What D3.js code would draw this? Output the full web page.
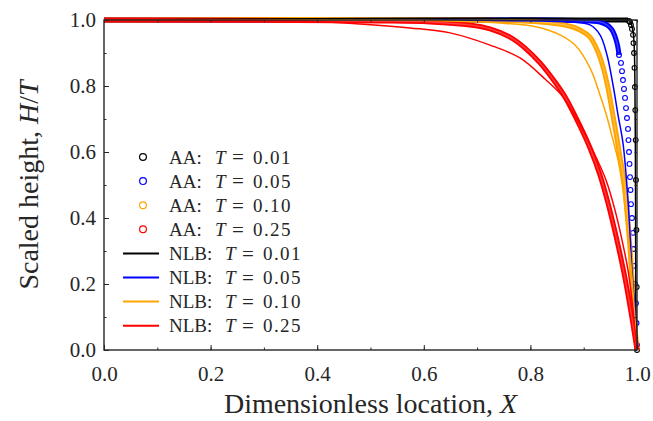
<!DOCTYPE html>
<html>
<head>
<meta charset="utf-8">
<script src="https://cdn.jsdelivr.net/npm/d3@7"></script>
<style>
  body { margin: 0; background: #fff; }
  text { font-family: "Liberation Serif", "DejaVu Serif", serif; fill: #262626; }
</style>
</head>
<body>
<div id="chart"></div>
<script>
// ---- data ----
const tLabels = ["0.01", "0.05", "0.10", "0.25"];
const xTicks = [0, 0.2, 0.4, 0.6, 0.8, 1.0];
const yTicks = [0, 0.2, 0.4, 0.6, 0.8, 1.0];

// AA (markers): part where the rings overlap into a chain
const aa01X = [0, 0.9831];
const aa01Y = [1, 1];
const aa05X = [0, 0.8180, 0.9118, 0.9306, 0.9437, 0.9531, 0.9625, 0.9662];
const aa05Y = [1, 1, 0.997, 0.994, 0.985, 0.970, 0.930, 0.894];
const aa10X = [0, 0.7054, 0.8180, 0.8649, 0.8930, 0.9118, 0.9268, 0.9362, 0.9456, 0.9531, 0.9606, 0.9681, 0.9756, 0.9812, 0.9869, 0.9906, 0.9944, 0.9981, 1.0];
const aa10Y = [1, 1, 0.994, 0.985, 0.970, 0.948, 0.903, 0.858, 0.794, 0.727, 0.658, 0.585, 0.515, 0.418, 0.309, 0.212, 0.115, 0.036, 0];
const aa25X = [0, 0.5178, 0.6116, 0.6867, 0.7242, 0.7617, 0.7899, 0.8180, 0.8462, 0.8649, 0.8930, 0.9118, 0.9306, 0.9456, 0.9606, 0.9756, 0.9887, 1.0];
const aa25Y = [1, 0.997, 0.994, 0.985, 0.973, 0.948, 0.915, 0.870, 0.812, 0.767, 0.679, 0.612, 0.530, 0.445, 0.345, 0.233, 0.115, 0];

// AA (markers): steep part where single rings are visible
const aa01RingX = [0.9850, 0.9869, 0.9887, 0.9906, 0.9925, 0.9934, 0.9944, 0.9953, 0.9962, 0.9968, 0.9976, 0.9981, 0.9989, 0.9994, 1.0];
const aa01RingY = [0.997, 0.994, 0.985, 0.973, 0.955, 0.930, 0.900, 0.855, 0.797, 0.727, 0.636, 0.515, 0.364, 0.191, 0];
const aa05RingX = [0.9662, 0.9700, 0.9719, 0.9737, 0.9756, 0.9775, 0.9794, 0.9812, 0.9831, 0.9840, 0.9850, 0.9859, 0.9869, 0.9878, 0.9887, 0.9906, 0.9925, 0.9934, 0.9944, 0.9962, 0.9981, 0.9991, 1.0];
const aa05RingY = [0.894, 0.870, 0.845, 0.818, 0.791, 0.764, 0.733, 0.703, 0.670, 0.636, 0.600, 0.564, 0.524, 0.485, 0.442, 0.400, 0.355, 0.306, 0.255, 0.200, 0.142, 0.082, 0.015];

// NLB (lines)
const nlb01X = [0, 0.978, 0.986, 0.990, 0.993, 0.995, 0.996, 0.997, 0.9975, 0.998, 1.0];
const nlb01Y = [1, 1, 0.997, 0.985, 0.96, 0.91, 0.82, 0.6, 0.3, 0.1, 0];
const nlb05X = [0, 0.6492, 0.8180, 0.8743, 0.9118, 0.9306, 0.9437, 0.9550, 0.9644, 0.9737, 0.9831, 0.9906, 0.9962, 1.0];
const nlb05Y = [1, 1, 0.997, 0.994, 0.985, 0.955, 0.894, 0.803, 0.712, 0.627, 0.455, 0.242, 0.121, 0];
const nlb10X = [0, 0.5553, 0.6492, 0.7430, 0.8124, 0.8555, 0.8837, 0.9118, 0.9306, 0.9437, 0.9550, 0.9644, 0.9737, 0.9812, 0.9887, 0.9944, 0.9981, 1.0];
const nlb10Y = [1, 1, 0.997, 0.991, 0.979, 0.955, 0.924, 0.855, 0.773, 0.706, 0.636, 0.576, 0.485, 0.379, 0.258, 0.136, 0.045, 0];
const nlb25X = [0, 0.3677, 0.4803, 0.5741, 0.6492, 0.7242, 0.7805, 0.8274, 0.8612, 0.8930, 0.9212, 0.9418, 0.9587, 0.9719, 0.9831, 0.9906, 0.9962, 1.0];
const nlb25Y = [1, 0.997, 0.988, 0.976, 0.961, 0.924, 0.885, 0.821, 0.767, 0.682, 0.591, 0.515, 0.424, 0.333, 0.242, 0.152, 0.061, 0];

// ---- styles ----
const colors = ["#000000", "#0000ff", "#ffa500", "#ff0000"];

const zip = (xs, ys) => xs.map((d, i) => [d, ys[i]]);
const aaChains = [zip(aa01X, aa01Y), zip(aa05X, aa05Y), zip(aa10X, aa10Y), zip(aa25X, aa25Y)];
const aaRings = [zip(aa01RingX, aa01RingY), zip(aa05RingX, aa05RingY), [], []];
const nlbLines = [zip(nlb01X, nlb01Y), zip(nlb05X, nlb05Y), zip(nlb10X, nlb10Y), zip(nlb25X, nlb25Y)];

const margin = {top: 20, right: 16, bottom: 71, left: 104},
      width = 653 - margin.left - margin.right,
      height = 421 - margin.top - margin.bottom;

const svg = d3.select("#chart")
    .append("svg")
    .attr("width", 653)
    .attr("height", 421)
    .append("g")
    .attr("transform", `translate(${margin.left},${margin.top})`);

const x = d3.scaleLinear().domain([0, 1]).range([0, width]);
const y = d3.scaleLinear().domain([0, 1]).range([height, 0]);

const line = d3.line()
    .x(d => x(d[0]))
    .y(d => y(d[1]))
    .curve(d3.curveCatmullRom.alpha(0.5));

// AA markers
aaChains.forEach((pts, i) => {
    svg.append("path")
        .attr("d", line(pts))
        .attr("fill", "none")
        .attr("stroke", colors[i])
        .attr("stroke-width", 5)
        .attr("stroke-linecap", "butt");
    svg.append("path")
        .attr("d", line(pts))
        .attr("fill", "none")
        .attr("stroke", "#fff")
        .attr("stroke-opacity", 0.25)
        .attr("stroke-width", 1.3);
    svg.selectAll(null)
        .data(aaRings[i])
        .join("circle")
        .attr("cx", d => x(d[0]))
        .attr("cy", d => y(d[1]))
        .attr("r", 2.4)
        .attr("fill", "none")
        .attr("stroke", colors[i])
        .attr("stroke-width", 1.1);
});

// NLB lines
nlbLines.forEach((pts, i) => {
    svg.append("path")
        .attr("d", line(pts))
        .attr("fill", "none")
        .attr("stroke", colors[i])
        .attr("stroke-width", 1.5);
});

// frame + inward ticks on all sides
const fmt = d3.format(".1f");
const minor = d3.range(0, 1.0001, 0.1);

function styleAxis(g) {
    g.select(".domain").remove();
    g.selectAll(".tick line").attr("stroke", "#262626").attr("stroke-width", 1);
    g.selectAll("text").style("font-size", "21px").attr("fill", "#262626");
}

svg.append("g").attr("transform", `translate(0,${height})`)
    .call(d3.axisBottom(x).tickValues(minor).tickSize(-2.5).tickFormat(""))
    .call(styleAxis);
svg.append("g").attr("transform", `translate(0,${height})`)
    .call(d3.axisBottom(x).tickValues(xTicks).tickSize(-5).tickPadding(16).tickFormat(fmt))
    .call(styleAxis);
svg.append("g")
    .call(d3.axisLeft(y).tickValues(minor).tickSize(-2.5).tickFormat(""))
    .call(styleAxis);
svg.append("g")
    .call(d3.axisLeft(y).tickValues(yTicks).tickSize(-5).tickPadding(8).tickFormat(fmt))
    .call(styleAxis);
svg.append("g")
    .call(d3.axisTop(x).tickValues(minor).tickSize(-2.5).tickFormat(""))
    .call(styleAxis);
svg.append("g").attr("transform", `translate(${width},0)`)
    .call(d3.axisRight(y).tickValues(minor).tickSize(-2.5).tickFormat(""))
    .call(styleAxis);

svg.append("rect")
    .attr("width", width)
    .attr("height", height)
    .attr("fill", "none")
    .attr("stroke", "#262626")
    .attr("stroke-width", 1.4);

// axis titles
const xt = svg.append("text")
    .attr("x", width / 2)
    .attr("y", height + 63)
    .attr("text-anchor", "middle")
    .style("font-size", "28px");
xt.append("tspan").text("Dimensionless location, ");
xt.append("tspan").style("font-style", "italic").text("X");

const yt = svg.append("text")
    .attr("transform", `translate(${-66},${height / 2}) rotate(-90)`)
    .attr("text-anchor", "middle")
    .style("font-size", "28px");
yt.append("tspan").text("Scaled height, ");
yt.append("tspan").style("font-style", "italic").text("H");
yt.append("tspan").text("/");
yt.append("tspan").style("font-style", "italic").text("T");

// legend
const legend = svg.append("g").attr("transform", `translate(${143 - margin.left},${157 - margin.top})`);
const entries = [];
tLabels.forEach((t, i) => entries.push({kind: "AA", t: t, c: colors[i]}));
tLabels.forEach((t, i) => entries.push({kind: "NLB", t: t, c: colors[i]}));

entries.forEach((e, i) => {
    const g = legend.append("g").attr("transform", `translate(0,${i * 24.1})`);
    if (e.kind === "AA") {
        g.append("circle").attr("r", 3.4).attr("fill", "none")
            .attr("stroke", e.c).attr("stroke-width", 1.2);
    } else {
        g.append("line").attr("x1", -20).attr("x2", 16)
            .attr("stroke", e.c).attr("stroke-width", 2);
    }
    // offsets of the pieces, measured from the text start
    const off = e.kind === "AA" ? 46 : 56;
    const g2 = g.append("g").attr("transform", "translate(26,0)").style("font-size", "19px");
    g2.append("text").attr("dy", "0.35em").text(e.kind + ":");
    g2.append("text").attr("x", off).attr("dy", "0.35em").style("font-style", "italic").text("T");
    g2.append("text").attr("x", off + 17).attr("dy", "0.35em").style("font-size", "21px").text("=");
    g2.append("text").attr("x", off + 38).attr("dy", "0.35em").style("letter-spacing", "1.4px").text(e.t);
});
</script>
</body>
</html>
